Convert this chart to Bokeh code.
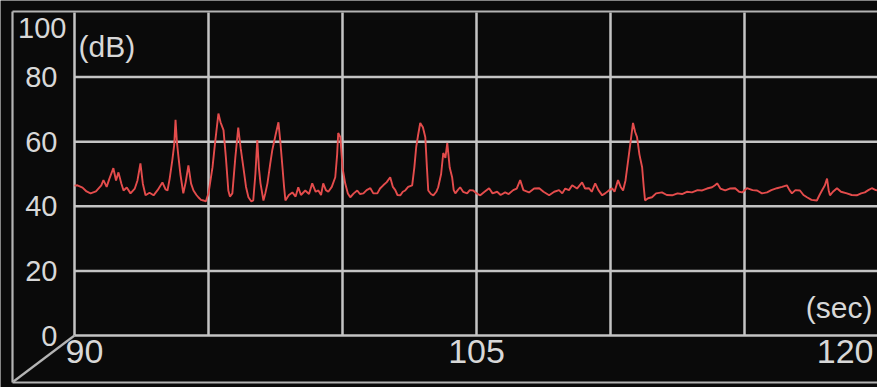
from bokeh.plotting import figure
from bokeh.models import Range1d
from bokeh.embed import file_html
from bokeh.resources import INLINE
from bokeh.core.properties import value

# ---------------- data ----------------
time_s = [
    90.00, 90.11, 90.30, 90.45, 90.60, 90.80, 91.00, 91.08, 91.20, 91.30,
    91.45, 91.55, 91.64, 91.75, 91.83, 91.95, 92.09, 92.25, 92.35, 92.46,
    92.55, 92.65, 92.80, 92.95, 93.10, 93.28, 93.40, 93.47, 93.55, 93.65,
    93.72, 93.77, 93.82, 93.88, 93.95, 94.06, 94.15, 94.25, 94.35, 94.44,
    94.55, 94.62, 94.72, 94.81, 94.90, 95.00, 95.15, 95.25, 95.37, 95.45,
    95.56, 95.65, 95.74, 95.80, 95.89, 96.00, 96.11, 96.20, 96.30, 96.40,
    96.49, 96.60, 96.67, 96.75, 96.82, 96.88, 96.94, 97.05, 97.12, 97.20,
    97.30, 97.38, 97.50, 97.61, 97.68, 97.76, 97.82, 97.87, 98.00, 98.13,
    98.25, 98.35, 98.45, 98.61, 98.75, 98.87, 99.00, 99.10, 99.20, 99.28,
    99.38, 99.47, 99.60, 99.73, 99.80, 99.84, 99.92, 100.00, 100.10, 100.20,
    100.29, 100.42, 100.55, 100.65, 100.78, 100.90, 101.04, 101.15, 101.30, 101.40,
    101.52, 101.65, 101.78, 101.88, 101.97, 102.05, 102.16, 102.25, 102.34, 102.45,
    102.60, 102.68, 102.75, 102.82, 102.90, 103.00, 103.09, 103.15, 103.20, 103.30,
    103.39, 103.50, 103.57, 103.68, 103.76, 103.84, 103.91, 104.00, 104.09, 104.15,
    104.21, 104.30, 104.39, 104.50, 104.65, 104.75, 104.88, 105.00, 105.14, 105.30,
    105.47, 105.60, 105.77, 105.90, 106.07, 106.20, 106.37, 106.50, 106.63, 106.75,
    106.96, 107.15, 107.34, 107.50, 107.71, 107.90, 108.08, 108.20, 108.31, 108.45,
    108.57, 108.75, 108.94, 109.05, 109.20, 109.30, 109.43, 109.55, 109.69, 109.80,
    109.95, 110.06, 110.15, 110.28, 110.38, 110.47, 110.56, 110.66, 110.75, 110.84,
    110.92, 110.99, 111.08, 111.18, 111.24, 111.29, 111.40, 111.55, 111.70, 111.92,
    112.10, 112.30, 112.50, 112.67, 112.85, 113.04, 113.25, 113.42, 113.60, 113.79,
    113.90, 113.98, 114.10, 114.28, 114.45, 114.65, 114.80, 114.91, 115.09, 115.30,
    115.47, 115.65, 115.84, 116.00, 116.21, 116.40, 116.58, 116.68, 116.77, 116.90,
    117.07, 117.20, 117.33, 117.50, 117.70, 117.80, 117.89, 118.00, 118.08, 118.14,
    118.19, 118.30, 118.45, 118.60, 118.82, 119.00, 119.19, 119.35, 119.49, 119.62,
    119.75, 119.90, 120.00,
]
level_db = [
    46.4, 46.5, 45.8, 44.6, 44.0, 44.6, 46.5, 48.1, 46.0, 48.5,
    51.8, 48.0, 50.5, 47.0, 44.9, 45.8, 44.0, 45.5, 48.0, 53.3,
    47.0, 43.4, 44.2, 43.4, 45.0, 47.4, 45.2, 44.9, 48.5, 54.3,
    59.0, 66.8, 60.0, 55.2, 50.0, 44.0, 47.5, 52.7, 47.0, 44.9,
    43.5, 42.8, 42.0, 41.8, 41.5, 44.0, 52.1, 60.0, 68.7, 66.0,
    63.6, 55.0, 44.9, 43.0, 44.0, 55.0, 64.4, 58.0, 52.1, 46.0,
    42.8, 41.5, 41.8, 50.0, 60.5, 52.0, 47.1, 41.8, 44.0, 47.1,
    53.0, 57.4, 62.0, 66.0, 60.0, 52.1, 46.0, 41.8, 43.5, 44.3,
    43.0, 45.9, 43.5, 44.9, 43.8, 47.1, 44.5, 44.9, 43.5, 47.1,
    45.0, 44.5, 46.0, 49.0, 56.0, 62.7, 61.4, 52.0, 47.1, 44.0,
    42.8, 44.0, 44.9, 43.8, 44.0, 45.0, 45.6, 44.0, 44.0, 45.5,
    46.5, 47.5, 49.0, 46.0, 45.0, 43.5, 43.4, 44.5, 44.9, 46.0,
    46.5, 52.0, 58.3, 62.0, 65.8, 64.5, 61.4, 52.0, 44.9, 43.8,
    43.4, 44.5, 45.9, 50.0, 56.5, 55.0, 59.6, 52.0, 49.0, 45.0,
    44.0, 45.0, 45.9, 44.5, 44.0, 45.0, 44.9, 44.0, 43.4, 44.5,
    45.6, 44.0, 44.5, 43.5, 44.3, 43.8, 45.0, 45.5, 48.1, 45.0,
    44.3, 45.5, 45.6, 44.5, 43.4, 44.5, 45.0, 44.0, 45.5, 45.0,
    46.5, 45.5, 47.4, 45.5, 45.6, 44.5, 47.1, 45.0, 43.4, 44.0,
    45.0, 45.6, 44.5, 48.1, 46.0, 44.9, 48.0, 54.3, 60.0, 65.8,
    63.0, 61.4, 56.0, 52.1, 46.0, 41.8, 42.5, 42.8, 44.0, 44.3,
    43.5, 43.4, 44.0, 43.8, 44.5, 44.3, 45.0, 44.9, 45.5, 45.9,
    46.5, 47.1, 45.5, 44.9, 45.5, 45.6, 44.5, 44.3, 45.6, 45.0,
    44.9, 44.0, 44.3, 45.0, 45.6, 46.0, 46.5, 45.0, 44.0, 45.0,
    44.9, 43.5, 42.8, 42.0, 41.8, 43.5, 44.9, 46.5, 48.6, 45.0,
    43.4, 44.5, 45.6, 44.5, 44.0, 43.5, 43.4, 44.0, 44.3, 45.0,
    45.6, 45.0, 44.9,
]

x_start, x_end = 90, 120
y_start, y_end = 0, 100
y_tick_values = [0, 20, 40, 60, 80, 100]
y_tick_labels = ["0", "20", "40", "60", "80", "100"]
x_grid_values = [95, 100, 105, 110, 115]
y_grid_values = [20, 40, 60, 80]
x_tick_values = [90, 105, 120]
x_tick_labels = ["90", "105", "120"]
y_unit_label = "(dB)"
x_unit_label = "(sec)"

# ---------------- layout / style ----------------
W, H = 877, 387
# pixel box of the data area inside the canvas
AL, AR, AT, AB = 74, 878, 12, 335
BG = "#0a0a0a"
GRID = "#c4c4c4"
FRAME = "#b4b4b4"
TXT = "#d8d8d8"
FONT = "Liberation Sans"


def dx(px):
    return x_start + (px - AL) * (x_end - x_start) / (AR - AL)


def dy(py):
    return y_start + (AB - py) * (y_end - y_start) / (AB - AT)


p = figure(width=W, height=H, output_backend="svg", toolbar_location=None,
           title=None, x_axis_location=None, y_axis_location=None,
           x_range=Range1d(dx(0), dx(W)), y_range=Range1d(dy(H), dy(0)),
           min_border=0, background_fill_color=BG, border_fill_color=BG)
p.outline_line_color = None
p.grid.visible = False

# grid lines
p.segment(x0=x_grid_values, y0=[y_start] * len(x_grid_values),
          x1=x_grid_values, y1=[y_end] * len(x_grid_values),
          line_color=GRID, line_width=2.5)
p.segment(x0=[x_start] * len(y_grid_values), y0=y_grid_values,
          x1=[x_end] * len(y_grid_values), y1=y_grid_values,
          line_color=GRID, line_width=2.5)

# inner frame (axis lines)
p.segment(x0=[x_start, x_start], y0=[y_start, y_start],
          x1=[x_start, x_end], y1=[y_end, y_start],
          line_color=GRID, line_width=2.5)

# outer 3D-like frame
frame_xs = [[dx(12), dx(882)], [dx(12), dx(12)], [dx(12), dx(882)], [dx(13), x_start]]
frame_ys = [[dy(11), dy(11)], [dy(11), dy(382)], [dy(382), dy(382)], [dy(381), y_start]]
p.multi_line(xs=frame_xs, ys=frame_ys, line_color=FRAME, line_width=2.2)

# signal
p.line(time_s, level_db, line_color="#e44c4c", line_width=1.9)

# y tick labels (0..80 centred on their grid line, 100 hangs below the top)
p.text(x=[x_start] * 5, y=y_tick_values[:5], text=y_tick_labels[:5],
       text_align="right", text_baseline="middle", x_offset=-17,
       text_font=value(FONT), text_font_size="29px", text_color=TXT)
p.text(x=[x_start], y=[y_tick_values[5]], text=[y_tick_labels[5]],
       text_align="right", text_baseline="top", x_offset=-8, y_offset=5,
       text_font=value(FONT), text_font_size="29px", text_color=TXT)

# x tick labels
aligns = ["left", "center", "right"]
offsets = [-9, 0, -5]
for v, t, a, o in zip(x_tick_values, x_tick_labels, aligns, offsets):
    p.text(x=[v], y=[y_start], text=[t], text_align=a, text_baseline="top",
           x_offset=o, y_offset=4,
           text_font=value(FONT), text_font_size="34px", text_color=TXT)

# unit labels
p.text(x=[x_start], y=[y_end], text=[y_unit_label], text_align="left",
       text_baseline="top", x_offset=4, y_offset=17,
       text_font=value(FONT), text_font_size="30px", text_color=TXT)
p.text(x=[x_end], y=[y_start], text=[x_unit_label], text_align="right",
       text_baseline="bottom", x_offset=-6, y_offset=-12,
       text_font=value(FONT), text_font_size="30px", text_color=TXT)

open("out.html", "w").write(file_html(p, INLINE))
